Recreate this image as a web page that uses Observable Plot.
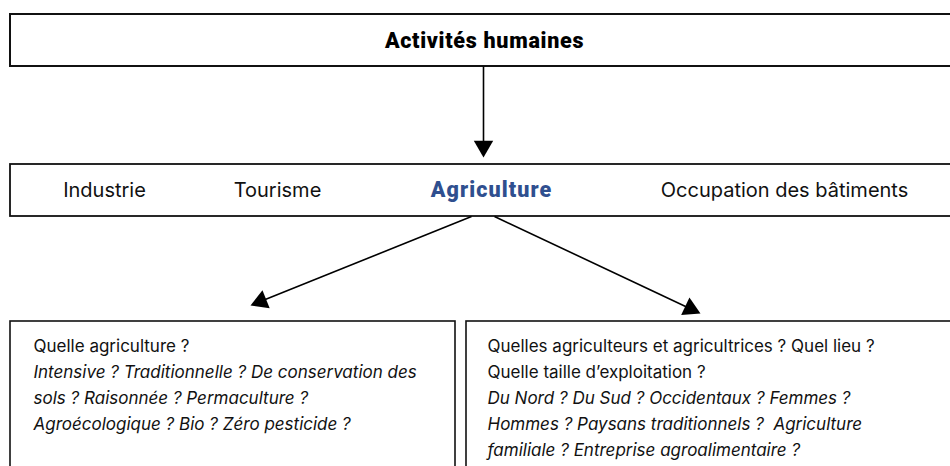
<!DOCTYPE html>
<html>
<head>
<meta charset="utf-8">
<script src="https://cdn.jsdelivr.net/npm/d3@7"></script>
<script src="https://cdn.jsdelivr.net/npm/@observablehq/plot@0.6"></script>
<style>
  html, body { margin: 0; padding: 0; background: #fff; overflow: hidden; }
  #chart svg { display: block; }
  .heavy-title text { letter-spacing: 0.7px; }
  .heavy-agri text { letter-spacing: 1.1px; }
</style>
</head>
<body>
<div id="chart"></div>
<script>
// ---- Content (text) ----
const titleLabels = ["Activités humaines"];
const activityLabels = ["Industrie", "Tourisme", "Agriculture", "Occupation des bâtiments"];
const highlighted = "Agriculture";
const leftLines = [
  "Quelle agriculture ?",
  "Intensive ? Traditionnelle ? De conservation des",
  "sols ? Raisonnée ? Permaculture ?",
  "Agroécologique ? Bio ? Zéro pesticide ?"
];
const leftItalic = [false, true, true, true];
const rightLines = [
  "Quelles agriculteurs et agricultrices ? Quel lieu ?",
  "Quelle taille d’exploitation ?",
  "Du Nord ? Du Sud ? Occidentaux ? Femmes ?",
  "Hommes ? Paysans traditionnels ?  Agriculture",
  "familiale ? Entreprise agroalimentaire ?"
];
const rightItalic = [false, false, true, true, true];

// ---- Layout (diagram geometry) ----
const boxX1 = [10, 10, 10, 466];
const boxX2 = [970, 970, 455, 970];
const boxY1 = [14, 164, 321, 321];
const boxY2 = [66, 216, 490, 490];
const boxStroke = [2, 1.8, 1.6, 1.6];
const titleX = [484], titleY = [41];
const activityX = [104, 277, 491, 784], activityY = 190;
const leftX = 33, rightX = 487;
const lineY0 = 346, lineStep = 26;
const arrowX1 = [483, 471, 494];
const arrowY1 = [66, 216, 216];
const arrowX2 = [483, 250, 700];
const arrowY2 = [157, 305, 313];

const boxes = boxX1.map((x1, i) => ({x1, x2: boxX2[i], y1: boxY1[i], y2: boxY2[i], sw: boxStroke[i]}));
const arrows = arrowX1.map((x1, i) => ({x1, y1: arrowY1[i], x2: arrowX2[i], y2: arrowY2[i]}));
const headHalf = 5.6; // triangle centroid-to-base distance
arrows.forEach(a => {
  const dx = a.x2 - a.x1, dy = a.y2 - a.y1, L = Math.hypot(dx, dy);
  a.ux = dx / L; a.uy = dy / L;
  a.cx = a.x2 - 2 * headHalf * a.ux;
  a.cy = a.y2 - 2 * headHalf * a.uy;
  a.rot = Math.atan2(dx, -dy) * 180 / Math.PI;
});
const titles = titleLabels.map((t, i) => ({t, x: titleX[i], y: titleY[i]}));
const activities = activityLabels.map((t, i) => ({t, x: activityX[i], y: activityY}));
const leftText = leftLines.map((t, i) => ({t, x: leftX, y: lineY0 + i * lineStep, it: leftItalic[i]}));
const rightText = rightLines.map((t, i) => ({t, x: rightX, y: lineY0 + i * lineStep, it: rightItalic[i]}));
const bodyText = leftText.concat(rightText);

const font = "Inter, 'Open Sans', sans-serif";
const heavy = "Roboto, Lato, 'DejaVu Sans', sans-serif";

const chart = Plot.plot({
  width: 950,
  height: 466,
  margin: 0,
  style: {background: "#fff", overflow: "hidden"},
  x: {domain: [0, 950], range: [0, 950], axis: null},
  y: {domain: [0, 466], range: [0, 466], axis: null},
  marks: [
    Plot.rect(boxes, {x1: "x1", x2: "x2", y1: "y1", y2: "y2", fill: "none", stroke: "#111", strokeWidth: d => d.sw}),
    Plot.link(arrows, {x1: "x1", y1: "y1", x2: "cx", y2: "cy", stroke: "#000", strokeWidth: 1.6}),
    Plot.dot(arrows, {x: "cx", y: "cy", symbol: "triangle", r: Math.sqrt(headHalf * headHalf * 3 * Math.sqrt(3) / Math.PI), fill: "#000", stroke: "none", rotate: "rot"}),
    Plot.text(titles, {x: "x", y: "y", text: "t", fontFamily: heavy, fontSize: 21.5, fontWeight: 900, fill: "#000", className: "heavy-title"}),
    Plot.text(activities.filter(d => d.t === highlighted), {x: "x", y: "y", text: "t", fontFamily: heavy, fontSize: 21.5, fontWeight: 900, fill: "#2f4f8f", className: "heavy-agri"}),
    Plot.text(activities.filter(d => d.t !== highlighted), {x: "x", y: "y", text: "t", fontFamily: font, fontSize: 20, fontWeight: 400, fill: "#111"}),
    Plot.text(bodyText.filter(d => !d.it), {x: "x", y: "y", text: "t", textAnchor: "start", fontFamily: font, fontSize: 17, fill: "#111"}),
    Plot.text(bodyText.filter(d => d.it), {x: "x", y: "y", text: "t", textAnchor: "start", fontFamily: font, fontSize: 17, fontStyle: "italic", fill: "#111"})
  ]
});
document.getElementById("chart").append(chart);
</script>
</body>
</html>
